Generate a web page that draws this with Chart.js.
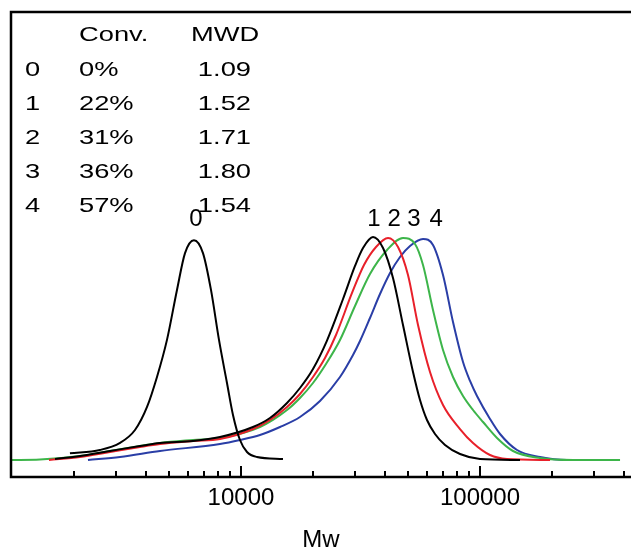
<!DOCTYPE html>
<html>
<head>
<meta charset="utf-8">
<script src="https://cdn.jsdelivr.net/npm/chart.js@4.4.0/dist/chart.umd.min.js"></script>
<style>
  html, body { margin: 0; padding: 0; background: #fff; }
  #wrap { width: 631px; height: 552px; position: relative; }
</style>
</head>
<body>
<div id="wrap"><canvas id="c"></canvas></div>
<script>
// ---- Data ----
// Sample table
const sampleIds   = ['0', '1', '2', '3', '4'];
const conversions = ['0%', '22%', '31%', '36%', '57%'];
const mwdValues   = ['1.09', '1.52', '1.71', '1.80', '1.54'];

// GPC traces: molecular weight (Mw) and normalized signal
const mw0  = [1925, 2570, 3119, 3602, 4045, 4452, 4902, 5398, 5832, 6357, 6934, 7490, 8091, 8738, 9258, 9904, 10595, 11665, 14988];
const sig0 = [0.03, 0.045, 0.077, 0.135, 0.239, 0.374, 0.541, 0.766, 0.932, 0.99, 0.932, 0.766, 0.541, 0.347, 0.203, 0.09, 0.036, 0.0135, 0.0045];

const mw1  = [1667, 2121, 2830, 3779, 4583, 6298, 8167, 11224, 13222, 15577, 17653, 20010, 22897, 26722, 29992, 32396, 35667, 39284, 43251, 47620, 52446, 56100, 60000, 64820, 71380, 82475, 100000, 147020];
const sig1 = [0.0045, 0.018, 0.0405, 0.063, 0.0766, 0.0856, 0.1036, 0.1486, 0.1892, 0.2568, 0.3243, 0.4099, 0.538, 0.7252, 0.8739, 0.955, 1.0045, 0.955, 0.8198, 0.6081, 0.3964, 0.2703, 0.1802, 0.1171, 0.0676, 0.027, 0.0045, 0];

const mw2  = [1573, 2121, 2830, 3779, 4583, 6298, 8167, 11224, 13222, 15577, 17653, 20010, 22460, 24970, 29140, 32700, 36720, 41231, 45385, 49969, 55032, 61768, 70012, 82475, 93487, 110108, 129718, 196300];
const sig2 = [0, 0.0135, 0.036, 0.0586, 0.072, 0.0856, 0.0946, 0.1396, 0.18, 0.2387, 0.2973, 0.3739, 0.4595, 0.5631, 0.7523, 0.8784, 0.9595, 1.0, 0.9595, 0.8333, 0.6081, 0.3964, 0.2477, 0.1396, 0.0766, 0.0225, 0.0045, 0];

const mw3  = [1091, 1442, 2121, 2830, 4583, 6298, 8167, 12007, 15577, 17653, 20010, 22680, 25955, 29992, 34648, 40834, 47620, 53460, 57742, 63575, 70012, 77090, 84894, 93487, 102943, 117803, 137430, 178238, 244970, 385300];
const sig3 = [0, 0.002, 0.018, 0.0405, 0.0766, 0.0901, 0.0991, 0.1486, 0.2252, 0.2793, 0.3468, 0.4324, 0.5405, 0.6937, 0.8378, 0.9459, 1.0, 0.973, 0.8784, 0.6757, 0.4955, 0.3739, 0.2883, 0.2252, 0.1712, 0.0991, 0.0405, 0.009, 0, 0];

const mw4  = [2290, 3117, 4583, 8167, 9904, 12007, 14561, 17653, 21402, 25955, 29420, 31471, 34648, 38157, 42027, 46270, 50946, 57742, 63575, 70012, 77090, 84894, 90830, 97138, 110108, 121260, 142820, 178238, 231206, 302880];
const sig4 = [0, 0.0135, 0.0405, 0.0721, 0.0901, 0.1126, 0.1486, 0.1937, 0.2658, 0.3739, 0.473, 0.536, 0.6396, 0.7477, 0.8423, 0.9144, 0.964, 0.9955, 0.9685, 0.8333, 0.6216, 0.4414, 0.3559, 0.2883, 0.1847, 0.1171, 0.045, 0.0135, 0, 0];

// Axis ticks
const majorTicks = [10000, 100000];
const minorTicks = [2000, 3000, 4000, 5000, 6000, 7000, 8000, 9000,
                    20000, 30000, 40000, 50000, 60000, 70000, 80000, 90000,
                    200000, 300000, 400000];

// Curve labels, anchored in data units above the peaks
const curveLabels   = ['0', '1', '2', '3', '4'];
const curveLabelMw  = [6480, 36000, 43700, 52900, 65500];
const curveLabelSig = 1.054;

// ---- Styles ----
const FONT = '"Liberation Sans", Arial, Helvetica, sans-serif';
const colors = ['#000000', '#000000', '#e8202a', '#3db54a', '#2a3ea6'];

const toPts = (xs, ys) => xs.map((x, i) => ({ x: x, y: ys[i] }));
const series = [[mw0, sig0], [mw1, sig1], [mw2, sig2], [mw3, sig3], [mw4, sig4]];

const datasets = series.map((s, i) => ({
  label: 'Sample ' + sampleIds[i],
  data: toPts(s[0], s[1]),
  borderColor: colors[i],
  borderWidth: 2,
  pointRadius: 0,
  fill: false,
  cubicInterpolationMode: 'monotone'
}));

const framePlugin = {
  id: 'frame',
  afterDatasetsDraw(chart) {
    const { ctx, chartArea: a, scales } = chart;
    const xs = scales.x;
    ctx.save();
    ctx.strokeStyle = '#000';
    ctx.lineWidth = 2.5;
    ctx.lineCap = 'square';
    ctx.beginPath();
    ctx.moveTo(a.right + 5, a.top);
    ctx.lineTo(a.left, a.top);
    ctx.lineTo(a.left, a.bottom);
    ctx.lineTo(a.right + 5, a.bottom);
    ctx.stroke();
    // inward ticks
    ctx.lineWidth = 2;
    ctx.lineCap = 'butt';
    xs.ticks.forEach(t => {
      const px = Math.round(xs.getPixelForValue(t.value));
      const len = majorTicks.includes(t.value) ? 11 : 6;
      ctx.beginPath();
      ctx.moveTo(px, a.bottom);
      ctx.lineTo(px, a.bottom - len);
      ctx.stroke();
    });

    // table
    ctx.fillStyle = '#000';
    ctx.font = '21px ' + FONT;
    ctx.textBaseline = 'alphabetic';
    const st = (text, x, y, align) => {
      ctx.save();
      ctx.translate(x, y);
      ctx.scale(1.3, 1);
      ctx.textAlign = align;
      ctx.fillText(text, 0, 0);
      ctx.restore();
    };
    const L = a.left, T = a.top;
    st('Conv.', L + 68, T + 29, 'left');
    st('MWD', L + 180, T + 29, 'left');
    sampleIds.forEach((id, i) => {
      const y = T + 64 + i * 34;
      st(id, L + 14, y, 'left');
      st(conversions[i], L + 68, y, 'left');
      st(mwdValues[i], L + 240, y, 'right');
    });

    // curve labels
    ctx.font = '24px ' + FONT;
    ctx.textAlign = 'center';
    curveLabels.forEach((lab, i) => {
      ctx.fillText(lab, xs.getPixelForValue(curveLabelMw[i]), scales.y.getPixelForValue(curveLabelSig));
    });
    ctx.restore();
  }
};

new Chart(document.getElementById('c'), {
  type: 'line',
  data: { datasets },
  options: {
    responsive: true,
    maintainAspectRatio: false,
    animation: false,
    layout: { padding: { left: 11, top: 12, right: 0, bottom: 0 } },
    plugins: { legend: { display: false }, tooltip: { enabled: false } },
    scales: {
      x: {
        type: 'logarithmic',
        min: 1091,
        max: 428200,
        afterBuildTicks: s => {
          s.ticks = minorTicks.concat(majorTicks).sort((p, q) => p - q)
            .map(v => ({ value: v, major: majorTicks.includes(v) }));
        },
        afterFit: s => { s.height = 75; },
        grid: { display: false, drawTicks: false },
        border: { display: false },
        ticks: {
          autoSkip: false,
          maxRotation: 0,
          padding: 7,
          color: '#000',
          font: { family: FONT, size: 24 },
          callback: v => majorTicks.includes(v) ? String(v) : ''
        },
        title: {
          display: true,
          text: 'Mw',
          color: '#000',
          font: { family: FONT, size: 24, lineHeight: 1 },
          padding: { top: 0, bottom: 0 }
        }
      },
      y: { display: false, min: -0.0766, max: 2.018 }
    }
  },
  plugins: [framePlugin]
});
</script>
</body>
</html>
